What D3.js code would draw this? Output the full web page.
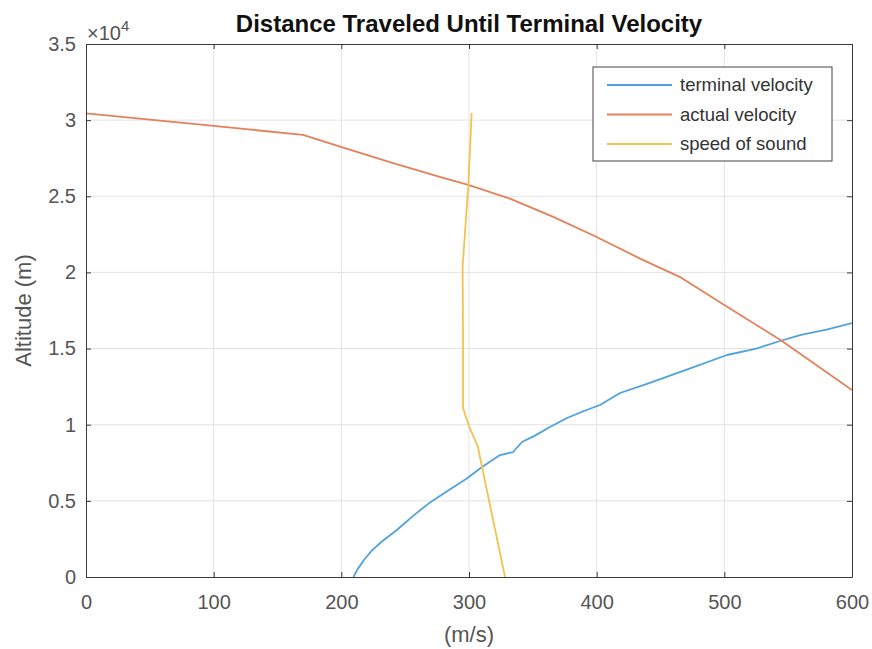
<!DOCTYPE html>
<html>
<head>
<meta charset="utf-8">
<script src="https://cdn.jsdelivr.net/npm/d3@7"></script>
<style>
  body { margin: 0; background: #fff; }
  text { font-family: "Liberation Sans", Arial, Helvetica, sans-serif; }
</style>
</head>
<body>
<div id="chart"></div>
<script>
// series: [velocity (m/s), altitude (m)]
const terminalVelocity = [
  [209.5, 0], [213, 550], [218, 1150], [224, 1750], [232, 2350], [243, 3050],
  [256, 4000], [269.5, 4900], [284, 5700], [298, 6450], [310.2, 7223], [324.3, 8011],
  [334.5, 8208], [341.5, 8865], [352, 9300], [363.4, 9850], [376.8, 10441],
  [390, 10900], [402.6, 11295], [418.3, 12083], [440, 12700], [470, 13600],
  [502.1, 14578], [525, 15000], [543.6, 15497], [560, 15900], [580, 16250], [600, 16679]
];
const actualVelocity = [
  [0, 30450], [100, 29620], [170, 29030], [204, 28130], [240, 27200], [277, 26270],
  [300, 25730], [332, 24850], [366, 23650], [400, 22330], [434, 20910], [465, 19710],
  [500, 17860], [544, 15560], [600, 12280]
];
const speedOfSound = [
  [302.1, 30470], [299.4, 25610], [295.0, 20360], [295.3, 16220], [295.3, 11100],
  [300, 9900], [307.0, 8540], [310.2, 7220], [328.2, 0]
];
const seriesNames = ["terminal velocity", "actual velocity", "speed of sound"];
const seriesColors = ["#4ea3dc", "#e4805a", "#f2c34e"];
const xTicks = [0, 100, 200, 300, 400, 500, 600];
const yTicks = [0, 5000, 10000, 15000, 20000, 25000, 30000, 35000];

const width = 872, height = 649;
const margin = { left: 86, right: 20, top: 44, bottom: 72 };

const svg = d3.select("#chart").append("svg")
  .attr("width", width)
  .attr("height", height);

const x = d3.scaleLinear().domain([0, 600]).range([margin.left, width - margin.right]);
const y = d3.scaleLinear().domain([0, 35000]).range([height - margin.bottom, margin.top]);

const axisColor = "#3a3a3a";
const tickColor = "#555";

// grid
svg.append("g").selectAll("line.gx")
  .data(xTicks.slice(1, -1))
  .enter().append("line")
  .attr("x1", d => x(d)).attr("x2", d => x(d))
  .attr("y1", y(0)).attr("y2", y(35000))
  .attr("stroke", "#e3e3e3").attr("stroke-width", 1);
svg.append("g").selectAll("line.gy")
  .data(yTicks.slice(1, -1))
  .enter().append("line")
  .attr("x1", x(0)).attr("x2", x(600))
  .attr("y1", d => y(d)).attr("y2", d => y(d))
  .attr("stroke", "#e3e3e3").attr("stroke-width", 1);

// lines
const line = d3.line().x(d => x(d[0])).y(d => y(d[1]));
svg.append("clipPath").attr("id", "plotclip").append("rect")
  .attr("x", x(0)).attr("y", y(35000))
  .attr("width", x(600) - x(0)).attr("height", y(0) - y(35000));

[terminalVelocity, actualVelocity, speedOfSound].forEach((s, i) => {
  svg.append("path")
    .datum(s)
    .attr("clip-path", "url(#plotclip)")
    .attr("d", line)
    .attr("fill", "none")
    .attr("stroke", seriesColors[i])
    .attr("stroke-width", 1.8)
    .attr("stroke-linejoin", "round");
});

// axes (box with inward ticks on all sides)
const tickLen = 5;
svg.append("g")
  .attr("transform", `translate(0,${y(0)})`)
  .call(d3.axisBottom(x).tickValues(xTicks).tickSizeInner(-tickLen).tickSizeOuter(0).tickPadding(18))
  .call(g => g.select(".domain").attr("stroke", axisColor))
  .call(g => g.selectAll(".tick line").attr("stroke", axisColor))
  .call(g => g.selectAll(".tick text").attr("fill", tickColor).style("font-size", "20px"));

svg.append("g")
  .attr("transform", `translate(0,${y(35000)})`)
  .call(d3.axisTop(x).tickValues(xTicks).tickSizeInner(-tickLen).tickSizeOuter(0).tickFormat(""))
  .call(g => g.select(".domain").attr("stroke", axisColor))
  .call(g => g.selectAll(".tick line").attr("stroke", axisColor));

svg.append("g")
  .attr("transform", `translate(${x(0)},0)`)
  .call(d3.axisLeft(y).tickValues(yTicks).tickSizeInner(-tickLen).tickSizeOuter(0).tickPadding(10)
    .tickFormat(d => d3.format("~g")(d / 10000)))
  .call(g => g.select(".domain").attr("stroke", axisColor))
  .call(g => g.selectAll(".tick line").attr("stroke", axisColor))
  .call(g => g.selectAll(".tick text").attr("fill", tickColor).style("font-size", "20px"));

svg.append("g")
  .attr("transform", `translate(${x(600)},0)`)
  .call(d3.axisRight(y).tickValues(yTicks).tickSizeInner(-tickLen).tickSizeOuter(0).tickFormat(""))
  .call(g => g.select(".domain").attr("stroke", axisColor))
  .call(g => g.selectAll(".tick line").attr("stroke", axisColor));

// exponent label
const expo = svg.append("text")
  .attr("x", x(0) + 1).attr("y", 40)
  .attr("fill", tickColor).style("font-size", "20px");
expo.append("tspan").text("\u00d710");
expo.append("tspan").attr("dy", -9).style("font-size", "15px").text("4");

// title and axis labels
svg.append("text")
  .attr("x", (x(0) + x(600)) / 2).attr("y", 32)
  .attr("text-anchor", "middle")
  .style("font-size", "24px").style("font-weight", "bold")
  .attr("fill", "#111")
  .text("Distance Traveled Until Terminal Velocity");

svg.append("text")
  .attr("x", (x(0) + x(600)) / 2).attr("y", 642)
  .attr("text-anchor", "middle")
  .style("font-size", "22px").attr("fill", tickColor)
  .text("(m/s)");

svg.append("text")
  .attr("transform", `translate(31,${(y(0) + y(35000)) / 2}) rotate(-90)`)
  .attr("text-anchor", "middle")
  .style("font-size", "22px").attr("fill", tickColor)
  .text("Altitude (m)");

// legend
const legend = svg.append("g").attr("transform", "translate(593,67)");
legend.append("rect")
  .attr("width", 239).attr("height", 94)
  .attr("fill", "#fff").attr("stroke", "#444").attr("stroke-width", 1);
seriesNames.forEach((name, i) => {
  const row = legend.append("g").attr("transform", `translate(0,${18 + i * 29.5})`);
  row.append("line")
    .attr("x1", 14).attr("x2", 79)
    .attr("stroke", seriesColors[i]).attr("stroke-width", 1.8);
  row.append("text")
    .attr("x", 87).attr("y", 6)
    .style("font-size", "18.5px").attr("fill", "#333")
    .text(name);
});
</script>
</body>
</html>
